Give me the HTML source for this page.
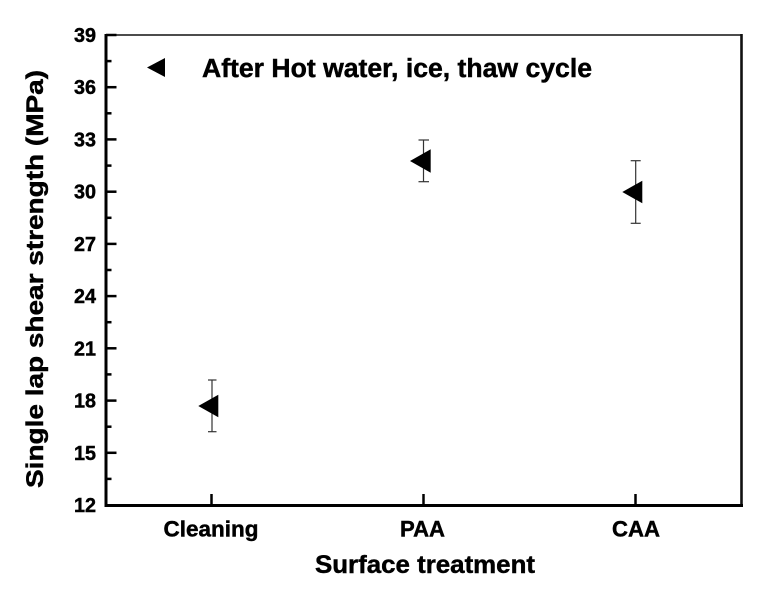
<!DOCTYPE html>
<html>
<head>
<meta charset="utf-8">
<style>
  html, body { margin: 0; padding: 0; background: #fff; }
  svg { display: block; }
  text { font-family: "Liberation Sans", Arial, sans-serif; font-weight: bold; fill: #000; stroke: #000; stroke-width: 0.45; }
</style>
</head>
<body>
<svg width="763" height="595" viewBox="0 0 763 595" xmlns="http://www.w3.org/2000/svg">
  <rect x="0" y="0" width="763" height="595" fill="#fff"/>

  <!-- frame -->
  <line x1="105" y1="35" x2="742" y2="35" stroke="#333" stroke-width="1.8"/>
  <line x1="741.5" y1="34" x2="741.5" y2="507" stroke="#111" stroke-width="2.6"/>
  <line x1="106" y1="34" x2="106" y2="507" stroke="#000" stroke-width="3"/>
  <line x1="104.5" y1="505.5" x2="743" y2="505.5" stroke="#000" stroke-width="3"/>

  <!-- y ticks -->
  <g stroke="#000" stroke-width="2.5">
    <line x1="106" y1="35" x2="116.5" y2="35"/>
    <line x1="106" y1="61.1" x2="111.5" y2="61.1"/>
    <line x1="106" y1="87.2" x2="116.5" y2="87.2"/>
    <line x1="106" y1="113.3" x2="111.5" y2="113.3"/>
    <line x1="106" y1="139.4" x2="116.5" y2="139.4"/>
    <line x1="106" y1="165.6" x2="111.5" y2="165.6"/>
    <line x1="106" y1="191.7" x2="116.5" y2="191.7"/>
    <line x1="106" y1="217.8" x2="111.5" y2="217.8"/>
    <line x1="106" y1="243.9" x2="116.5" y2="243.9"/>
    <line x1="106" y1="270" x2="111.5" y2="270"/>
    <line x1="106" y1="296.1" x2="116.5" y2="296.1"/>
    <line x1="106" y1="322.2" x2="111.5" y2="322.2"/>
    <line x1="106" y1="348.3" x2="116.5" y2="348.3"/>
    <line x1="106" y1="374.4" x2="111.5" y2="374.4"/>
    <line x1="106" y1="400.6" x2="116.5" y2="400.6"/>
    <line x1="106" y1="426.7" x2="111.5" y2="426.7"/>
    <line x1="106" y1="452.8" x2="116.5" y2="452.8"/>
    <line x1="106" y1="478.9" x2="111.5" y2="478.9"/>
  </g>

  <!-- x ticks -->
  <g stroke="#000" stroke-width="2.5">
    <line x1="211.5" y1="505" x2="211.5" y2="494"/>
    <line x1="423.5" y1="505" x2="423.5" y2="494"/>
    <line x1="635.5" y1="505" x2="635.5" y2="494"/>
  </g>

  <!-- y tick labels -->
  <g font-size="20" text-anchor="end">
    <text x="96" y="42" textLength="22" lengthAdjust="spacingAndGlyphs">39</text>
    <text x="96" y="94.2" textLength="22" lengthAdjust="spacingAndGlyphs">36</text>
    <text x="96" y="146.4" textLength="22" lengthAdjust="spacingAndGlyphs">33</text>
    <text x="96" y="198.7" textLength="22" lengthAdjust="spacingAndGlyphs">30</text>
    <text x="96" y="250.9" textLength="22" lengthAdjust="spacingAndGlyphs">27</text>
    <text x="96" y="303.1" textLength="22" lengthAdjust="spacingAndGlyphs">24</text>
    <text x="96" y="355.3" textLength="22" lengthAdjust="spacingAndGlyphs">21</text>
    <text x="96" y="407.6" textLength="22" lengthAdjust="spacingAndGlyphs">18</text>
    <text x="96" y="459.8" textLength="22" lengthAdjust="spacingAndGlyphs">15</text>
    <text x="96" y="512" textLength="22" lengthAdjust="spacingAndGlyphs">12</text>
  </g>

  <!-- x tick labels -->
  <g font-size="22" text-anchor="middle">
    <text x="211" y="536.5" textLength="95" lengthAdjust="spacingAndGlyphs">Cleaning</text>
    <text x="422.5" y="536.5" textLength="45" lengthAdjust="spacingAndGlyphs">PAA</text>
    <text x="636" y="536.5" textLength="48" lengthAdjust="spacingAndGlyphs">CAA</text>
  </g>

  <!-- axis titles -->
  <text x="425" y="573" font-size="25" text-anchor="middle" textLength="220" lengthAdjust="spacingAndGlyphs">Surface treatment</text>
  <text transform="translate(43,279) rotate(-90)" x="0" y="0" font-size="24.5" text-anchor="middle" textLength="418" lengthAdjust="spacingAndGlyphs">Single lap shear strength (MPa)</text>

  <!-- legend -->
  <polygon points="147,67.5 165,58 165,77" fill="#000"/>
  <text x="202" y="76.8" font-size="25.5" textLength="390" lengthAdjust="spacingAndGlyphs">After Hot water, ice, thaw cycle</text>

  <!-- error bars -->
  <g stroke="#333" stroke-width="1.2" fill="none">
    <line x1="212" y1="380" x2="212" y2="431.7"/>
    <line x1="208" y1="380" x2="216.5" y2="380"/>
    <line x1="208" y1="431.7" x2="216.5" y2="431.7"/>

    <line x1="423.5" y1="140" x2="423.5" y2="181.7"/>
    <line x1="418.5" y1="140" x2="429" y2="140"/>
    <line x1="418.5" y1="181.7" x2="429" y2="181.7"/>

    <line x1="635.7" y1="160.7" x2="635.7" y2="223.3"/>
    <line x1="630.7" y1="160.7" x2="640.7" y2="160.7"/>
    <line x1="630.7" y1="223.3" x2="640.7" y2="223.3"/>
  </g>

  <!-- data markers -->
  <polygon points="198.3,406 218.3,394.8 218.3,417.3" fill="#000"/>
  <polygon points="410,161 430.7,149.3 430.7,172.7" fill="#000"/>
  <polygon points="622.3,192 642.3,180.7 642.3,203.3" fill="#000"/>
</svg>
</body>
</html>
